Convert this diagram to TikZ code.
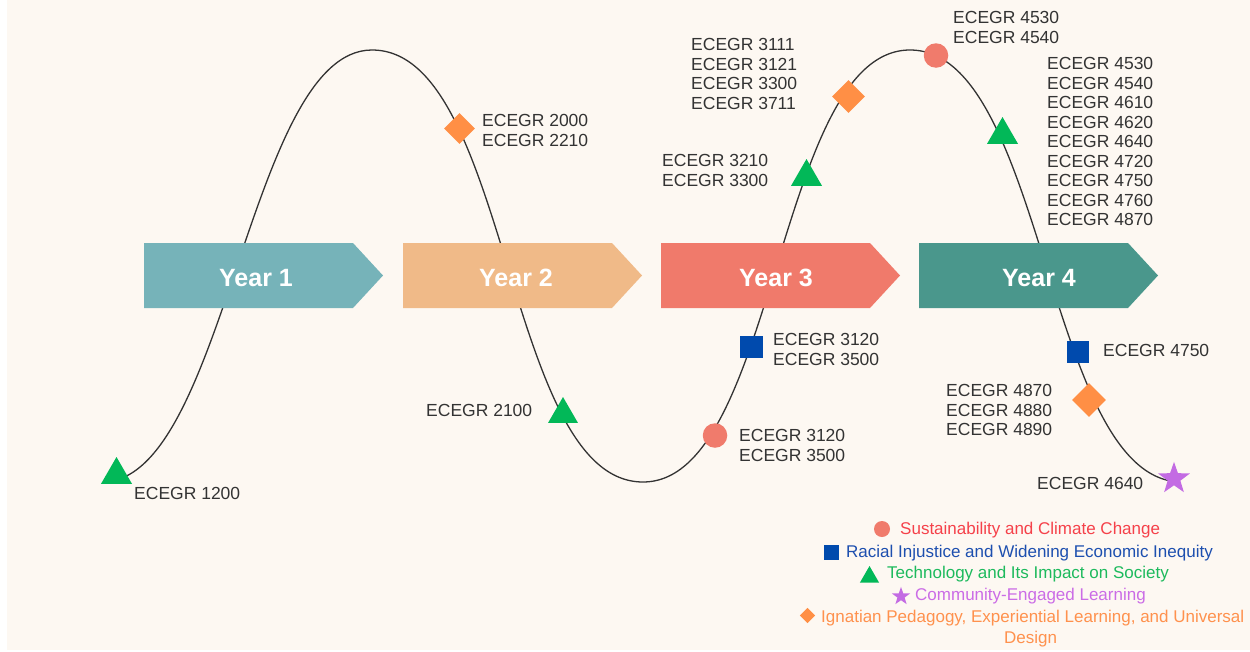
\documentclass[tikz,border=0pt]{standalone}
\usepackage{fontspec}
\setmainfont{Liberation Sans}
\usetikzlibrary{shapes.geometric}
\definecolor{bg}{HTML}{FDF8F2}
\definecolor{yone}{HTML}{76B3B9}
\definecolor{ytwo}{HTML}{F0BA88}
\definecolor{ythree}{HTML}{F07A6B}
\definecolor{yfour}{HTML}{4A978C}
\definecolor{tgreen}{HTML}{02B858}
\definecolor{torange}{HTML}{FF8F45}
\definecolor{tsalmon}{HTML}{F07B6C}
\definecolor{tblue}{HTML}{004AAD}
\definecolor{tpurple}{HTML}{C36BE3}
\definecolor{labelgray}{HTML}{333333}
\definecolor{lgred}{HTML}{F5414A}
\definecolor{lgblue}{HTML}{1D4FAF}
\definecolor{lggreen}{HTML}{1DBA5D}
\definecolor{lgpurple}{HTML}{CB6CE6}
\definecolor{lgorange}{HTML}{FF914D}
\begin{document}
\begin{tikzpicture}[x=1pt,y=-1pt,
  lbl/.style={anchor=north west, inner sep=0pt, font=\fontsize{17.5}{19.5}\selectfont, text=labelgray, align=left},
  yearlbl/.style={inner sep=0pt, font=\fontsize{25}{28}\selectfont\bfseries, text=white},
  tri/.style={regular polygon, regular polygon sides=3, fill=tgreen, inner sep=0pt, minimum size=#1},
  dia/.style={diamond, fill=torange, inner sep=0pt, minimum size=#1},
  dot/.style={circle, fill=tsalmon, inner sep=0pt, minimum size=#1},
  sq/.style={rectangle, fill=tblue, inner sep=0pt, minimum size=#1},
  starmark/.style={star, star points=5, star point ratio=2.5, fill=tpurple, inner sep=0pt, minimum size=#1},
  legtext/.style={anchor=base west, inner sep=0pt, font=\fontsize{17}{21}\selectfont},
  curveline/.style={draw=labelgray, line width=1.3pt}
]
\useasboundingbox (0,0) rectangle (1250,651);
\fill[white] (0,0) rectangle (1250,651);
\fill[bg] (7,0) rectangle (1250,650);

% the wave
\coordinate (c0) at (102,482);
\coordinate (p1) at (372,50);
\coordinate (t1) at (643,482);
\coordinate (p2) at (910,50);
\coordinate (t2) at (1182,482);
\begin{scope}
\clip (127,0) rectangle (1168,651);
\draw[curveline] (c0) .. controls (226,482) and (248,50) .. (p1)
  .. controls (510,50) and (505,482) .. (t1)
  .. controls (777,482) and (776,50) .. (p2)
  .. controls (1046,50) and (1046,482) .. (t2);
\end{scope}

% year arrows
\foreach \xl/\tx/\col/\n in {144/256/yone/1, 403/516/ytwo/2, 661/776/ythree/3, 919/1039/yfour/4}{
  \fill[\col] (\xl,243) -- (\xl+209,243) -- (\xl+239,275.5) -- (\xl+209,308) -- (\xl,308) -- cycle;
  \node[yearlbl] (year\n) at (\tx,278) {Year \n};
}

% markers
\node[tri=35.8] (m1200) at (116.5,474.9) {};
\node[tri=34.6] (m2100) at (563,414.3) {};
\node[tri=35.8] (m3210) at (806.5,176.9) {};
\node[tri=35.8] (m4530b) at (1002.5,134.9) {};
\node[dia=31] (m2000) at (459.5,128.5) {};
\node[dia=33] (m3111) at (848.5,96.5) {};
\node[dia=34] (m4870) at (1089,400) {};
\node[dot=24.5] (m4530a) at (936,55.5) {};
\node[dot=24.5] (m3120c) at (715,435.5) {};
\node[sq=22.5] (m3120s) at (751.5,347) {};
\node[sq=22.5] (m4750) at (1078,352) {};
\node[starmark=33.5] (m4640) at (1174,478.6) {};

% labels
\node[lbl] (l1200) at (134,487.5) {ECEGR 1200};
\node[lbl] (l2000) at (482,114.5) {ECEGR 2000\\ECEGR 2210};
\node[lbl] (l3111) at (691,38.5) {ECEGR 3111\\ECEGR 3121\\ECEGR 3300\\ECEGR 3711};
\node[lbl] (l3210) at (662,154.5) {ECEGR 3210\\ECEGR 3300};
\node[lbl] (l4530a) at (953,11.5) {ECEGR 4530\\ECEGR 4540};
\node[lbl] (l4530b) at (1047,57.5) {ECEGR 4530\\ECEGR 4540\\ECEGR 4610\\ECEGR 4620\\ECEGR 4640\\ECEGR 4720\\ECEGR 4750\\ECEGR 4760\\ECEGR 4870};
\node[lbl] (l3120s) at (773,333.5) {ECEGR 3120\\ECEGR 3500};
\node[lbl] (l3120c) at (739,429.5) {ECEGR 3120\\ECEGR 3500};
\node[lbl] (l2100) at (426,404.5) {ECEGR 2100};
\node[lbl] (l4750) at (1103,344.5) {ECEGR 4750};
\node[lbl] (l4870) at (946,384.5) {ECEGR 4870\\ECEGR 4880\\ECEGR 4890};
\node[lbl] (l4640) at (1037,477.5) {ECEGR 4640};

% legend
\node[dot=16] (kdot) at (882,529) {};
\node[legtext, text=lgred] (ktext1) at (900,534) {Sustainability and Climate Change};
\node[sq=15.5] (ksq) at (831.5,552.5) {};
\node[legtext, text=lgblue] (ktext2) at (846,557) {Racial Injustice and Widening Economic Inequity};
\node[tri=22] (ktri) at (869.5,577) {};
\node[legtext, text=lggreen] (ktext3) at (887,578) {Technology and Its Impact on Society};
\node[starmark=19] (kstar) at (901,596.4) {};
\node[legtext, text=lgpurple] (ktext4) at (915,600) {Community-Engaged Learning};
\node[dia=15.5] (kdia) at (807.5,615.5) {};
\node[legtext, text=lgorange] (ktext5) at (821,622) {Ignatian Pedagogy, Experiential Learning, and Universal};
\node[legtext, anchor=base, text=lgorange] (ktext6) at (1030.5,643) {Design};
\end{tikzpicture}
\end{document}
